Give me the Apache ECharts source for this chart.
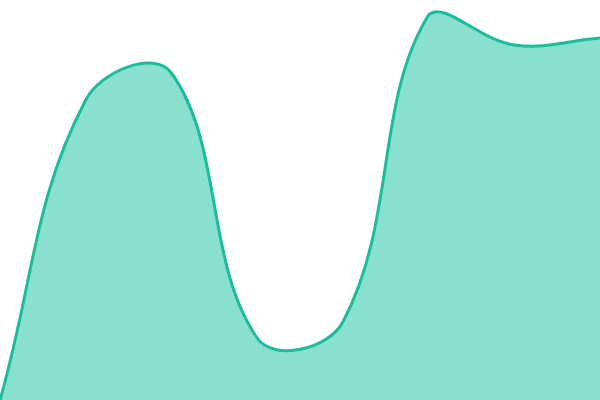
<!DOCTYPE html>
<html><head><meta charset="utf-8">
<script src="https://cdn.jsdelivr.net/npm/echarts@6/dist/echarts.min.js"></script>
<style>html,body{margin:0;padding:0;background:#fff}#c{width:600px;height:400px}</style>
</head><body><div id="c"></div>
<script>
const categories = ['A','B','C','D','E','F','G','H'];
const values = [0, 300, 327, 62, 78, 385, 355, 362];
const chart = echarts.init(document.getElementById('c'));

// Cardinal-style bezier smoothing through the axis-mapped points,
// control points capped to the plotting area
function smoothPath(pts, t, minP, maxP) {
  const n = pts.length;
  const clamp = p => [Math.max(minP[0], Math.min(maxP[0], p[0])), Math.max(minP[1], Math.min(maxP[1], p[1]))];
  const cps = pts.map((cur, i) => {
    const prev = pts[Math.max(i - 1, 0)], next = pts[Math.min(i + 1, n - 1)];
    const d01 = Math.hypot(cur[0] - prev[0], cur[1] - prev[1]);
    const d12 = Math.hypot(next[0] - cur[0], next[1] - cur[1]);
    const s01 = d01 / (d01 + d12) || 0, s12 = d12 / (d01 + d12) || 0;
    const fa = t * s01, fb = t * s12;
    return {
      prev: clamp([cur[0] - fa * (next[0] - prev[0]), cur[1] - fa * (next[1] - prev[1])]),
      next: clamp([cur[0] + fb * (next[0] - prev[0]), cur[1] + fb * (next[1] - prev[1])])
    };
  });
  let d = 'M' + pts[0][0] + ' ' + pts[0][1];
  for (let i = 1; i < n; i++) {
    const a = cps[i - 1].next, b = cps[i].prev, p = pts[i];
    d += 'C' + a[0] + ' ' + a[1] + ' ' + b[0] + ' ' + b[1] + ' ' + p[0] + ' ' + p[1];
  }
  return d;
}

chart.setOption({
  animation: false,
  grid: {left: 0, right: 0, top: 0, bottom: 0},
  xAxis: {type: 'category', data: categories, boundaryGap: false, show: false},
  yAxis: {type: 'value', min: 0, max: 400, show: false},
  series: [{
    type: 'custom',
    clip: false,
    data: values.map((v, i) => [i, v]),
    renderItem: function (params, api) {
      if (params.dataIndex !== 0) return null;
      const pts = values.map((v, i) => api.coord([i, v]));
      const cs = params.coordSys;
      const minP = [cs.x, cs.y], maxP = [cs.x + cs.width, cs.y + cs.height];
      const line = smoothPath(pts, 0.4, minP, maxP);
      const base = api.coord([0, 0])[1];
      const last = pts[pts.length - 1], first = pts[0];
      const area = line + 'L' + last[0] + ' ' + base + 'L' + first[0] + ' ' + base + 'Z';
      return {
        type: 'group',
        children: [
          {type: 'path', shape: {pathData: area}, style: {fill: '#8ae0cf', stroke: null}},
          {type: 'path', shape: {pathData: line}, style: {fill: null, stroke: '#1abc9c', lineWidth: 3, lineJoin: 'round'}}
        ]
      };
    }
  }]
});
</script></body></html>
